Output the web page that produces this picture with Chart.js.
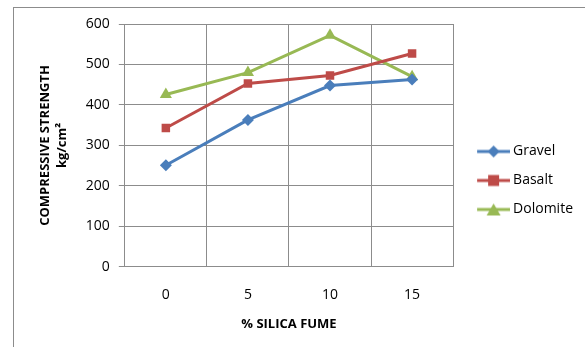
<!DOCTYPE html>
<html>
<head>
    <meta charset="utf-8">
    <title>Compressive strength vs silica fume</title>
    <script src="https://cdn.jsdelivr.net/npm/chart.js@4.4.6/dist/chart.umd.min.js"></script>
    <style>
        html, body { margin: 0; padding: 0; background: #fff; overflow: hidden; }
        #wrap { position: relative; width: 585px; height: 347px; }
        #frame { position: absolute; left: 13px; top: 7px; width: 700px; height: 500px; border: 1px solid #8c8c8c; box-sizing: border-box; }
        #myChart1 { position: absolute; left: 0; top: 0; }
    </style>
</head>
<body>
    <div id="wrap">
        <div id="frame"></div>
        <canvas id="myChart1" width="585" height="347"></canvas>
    </div>
    <script>
        const categories = ["0", "5", "10", "15"]
        const gravel = [251, 363, 448, 463]
        const basalt = [343, 453, 473, 527]
        const dolomite = [426, 480, 572, 470]
        const seriesNames = ["Gravel", "Basalt", "Dolomite"]

        const COLORS = {
            blue: "#4a7ebb",
            red: "#be4b48",
            green: "#98b954",
            grid: "#8c8c8c",
        }
        const FONT = "'Open Sans', sans-serif"

        // line+marker picture for the legend, like Excel draws it.
        // wider than the legend box so the line sits near the label
        function legendIcon(color, style) {
            const c = document.createElement("canvas")
            c.width = 46
            c.height = 14
            const ctx = c.getContext("2d")
            ctx.strokeStyle = color
            ctx.lineWidth = 3
            ctx.beginPath()
            ctx.moveTo(13, 7)
            ctx.lineTo(46, 7)
            ctx.stroke()
            const cx = 29.5
            ctx.fillStyle = color
            ctx.beginPath()
            if (style === "rectRot") {
                ctx.moveTo(cx, 1); ctx.lineTo(cx + 6, 7); ctx.lineTo(cx, 13); ctx.lineTo(cx - 6, 7)
            } else if (style === "rect") {
                ctx.rect(cx - 5.5, 1.5, 11, 11)
            } else {
                ctx.moveTo(cx, 1); ctx.lineTo(cx + 7, 13); ctx.lineTo(cx - 7, 13)
            }
            ctx.closePath()
            ctx.fill()
            return c
        }

        const styles = ["rectRot", "rect", "triangle"]
        const colors = [COLORS.blue, COLORS.red, COLORS.green]
        const values = [gravel, basalt, dolomite]
        const radii = [6, 6, 7]

        const datasets = seriesNames.map((name, i) => ({
            label: name,
            data: values[i],
            borderColor: colors[i],
            backgroundColor: colors[i],
            borderWidth: 3,
            pointStyle: styles[i],
            pointRadius: radii[i],
            pointBorderWidth: 0,
            tension: 0,
            fill: false,
        }))

        new Chart(document.getElementById("myChart1"), {
            type: "line",
            data: { labels: categories, datasets: datasets },
            options: {
                responsive: false,
                animation: false,
                layout: { padding: { left: 37, right: 2, top: 24, bottom: 16 } },
                plugins: {
                    tooltip: { enabled: false },
                    legend: {
                        position: "right",
                        // empty title only nudges the items down a little
                        title: { display: true, text: "", padding: 0, font: { size: 6, lineHeight: 1 } },
                        labels: {
                            usePointStyle: true,
                            pointStyleWidth: 38,
                            padding: 15,
                            color: "#000",
                            font: { family: FONT, size: 14 },
                            generateLabels: chart => chart.data.datasets.map((ds, i) => ({
                                text: ds.label,
                                pointStyle: legendIcon(colors[i], styles[i]),
                                fillStyle: colors[i],
                                strokeStyle: "transparent",
                                lineWidth: 0,
                                hidden: false,
                                datasetIndex: i,
                                fontColor: "#000",
                            })),
                        },
                    },
                },
                scales: {
                    x: {
                        offset: true,
                        grid: { color: COLORS.grid, offset: true, drawTicks: false },
                        border: { color: COLORS.grid },
                        ticks: { color: "#000", padding: 20, font: { family: FONT, size: 14 } },
                        title: {
                            display: true,
                            text: "% SILICA FUME",
                            color: "#000",
                            font: { family: FONT, size: 13, weight: "bold", lineHeight: 1.1 },
                            padding: { top: -7, bottom: 0 },
                        },
                    },
                    y: {
                        min: 0,
                        max: 600,
                        ticks: { stepSize: 100, color: "#000", padding: 9, font: { family: FONT, size: 14 } },
                        grid: { color: COLORS.grid, tickLength: 6 },
                        border: { color: COLORS.grid },
                        title: {
                            display: true,
                            text: ["COMPRESSIVE STRENGTH", "kg/cm²"],
                            color: "#000",
                            font: { family: FONT, size: 13, weight: "bold", lineHeight: 1.3 },
                            padding: { top: 0, bottom: 6 },
                        },
                    },
                },
            },
        })
    </script>
</body>
</html>
